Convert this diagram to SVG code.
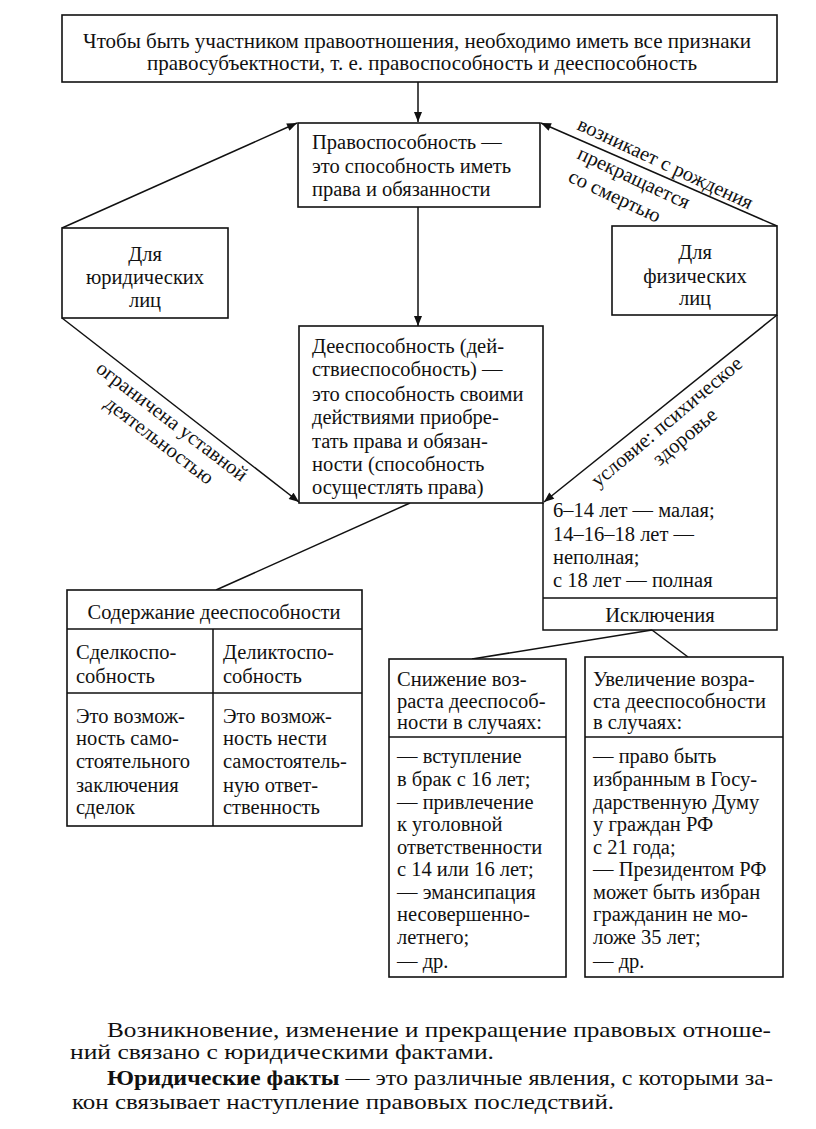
<svg xmlns="http://www.w3.org/2000/svg" width="816" height="1129" viewBox="0 0 816 1129" font-family="'Liberation Serif','Times New Roman',serif">
<defs>
<marker id="ah" viewBox="0 0 10 8" refX="10" refY="4" markerWidth="11" markerHeight="8" markerUnits="userSpaceOnUse" orient="auto">
<path d="M0,0 L10,4 L0,8 z" fill="#111"/>
</marker>
<style>
text{font-family:"Liberation Serif","Times New Roman",serif;font-size:20.5px;fill:#111}
.c{text-anchor:middle}
.box{fill:#fff;stroke:#111;stroke-width:1.6}
.ln{fill:none;stroke:#111;stroke-width:1.5}
.t{font-size:21px}
.p{font-size:21px}
.b{font-weight:bold}
</style>
</defs>
<rect width="816" height="1129" fill="#fff"/>
<g id="connectors">
<line class="ln" x1="418" y1="82" x2="418" y2="122" marker-end="url(#ah)"/>
<line class="ln" x1="62" y1="228" x2="297" y2="123" marker-end="url(#ah)"/>
<line class="ln" x1="777" y1="226" x2="541" y2="123" marker-end="url(#ah)"/>
<line class="ln" x1="418" y1="207" x2="418" y2="326" marker-end="url(#ah)"/>
<line class="ln" x1="62" y1="318" x2="299" y2="502" marker-end="url(#ah)"/>
<line class="ln" x1="777" y1="315" x2="544" y2="502" marker-end="url(#ah)"/>
<line class="ln" x1="410" y1="503" x2="216" y2="590"/>
<line class="ln" x1="652" y1="630" x2="472" y2="659"/>
<line class="ln" x1="652" y1="630" x2="688" y2="657"/>
<text transform="translate(576,129) rotate(25)">возникает с рождения</text>
<text transform="translate(576,158) rotate(25)">прекращается</text>
<text transform="translate(567,181) rotate(25)">со смертью</text>
<g transform="translate(62,318) rotate(37.3)">
<text x="58" y="22">ограничена уставной</text>
<text x="86" y="45">деятельностью</text>
</g>
<g transform="translate(598,488) rotate(-40)">
<text x="0" y="0">условие: психическое</text>
<text x="61" y="23">здоровье</text>
</g>
</g>
<g id="top">
<rect class="box" x="62" y="15" width="715" height="67"/>
<text class="t" x="83" y="48" textLength="668" lengthAdjust="spacingAndGlyphs">Чтобы быть участником правоотношения, необходимо иметь все признаки</text>
<text class="t" x="147" y="70" textLength="550" lengthAdjust="spacingAndGlyphs">правосубъектности, т. е. правоспособность и дееспособность</text>
</g>
<g id="pravo">
<rect class="box" x="298" y="123" width="242" height="84"/>
<text x="312" y="149">Правоспособность —</text>
<text x="312" y="173">это способность иметь</text>
<text x="312" y="196">права и обязанности</text>
</g>
<g id="yur">
<rect class="box" x="62" y="228" width="166" height="90"/>
<text class="c" x="145" y="261">Для</text>
<text class="c" x="145" y="284">юридических</text>
<text class="c" x="145" y="307">лиц</text>
</g>
<g id="fiz">
<rect class="box" x="612" y="226" width="165" height="89"/>
<text class="c" x="695" y="259">Для</text>
<text class="c" x="695" y="283">физических</text>
<text class="c" x="695" y="305">лиц</text>
</g>
<g id="dee">
<rect class="box" x="299" y="326" width="244" height="177"/>
<text x="312" y="353">Дееспособность (дей-</text>
<text x="312" y="376">ствиеспособность) —</text>
<text x="312" y="401">это способность своими</text>
<text x="312" y="424">действиями приобре-</text>
<text x="312" y="448">тать права и обязан-</text>
<text x="312" y="471">ности (способность</text>
<text x="312" y="494">осущестлять права)</text>
</g>
<g id="age">
<path class="ln" d="M543,503 L543,630 L777,630 L777,315 M543,598 L777,598"/>
<text x="553" y="517">6–14 лет — малая;</text>
<text x="553" y="541">14–16–18 лет —</text>
<text x="553" y="564">неполная;</text>
<text x="553" y="587">с 18 лет — полная</text>
<text class="c" x="660" y="622">Исключения</text>
</g>
<g id="content">
<rect class="box" x="67" y="590" width="295" height="236"/>
<path class="ln" d="M67,629 L362,629 M67,693 L362,693 M213,629 L213,826"/>
<text class="c" x="214" y="619">Содержание дееспособности</text>
<text x="76" y="659">Сделкоспо-</text>
<text x="76" y="683">собность</text>
<text x="223" y="659">Деликтоспо-</text>
<text x="223" y="683">собность</text>
<text x="76" y="723">Это возмож-</text>
<text x="76" y="745">ность само-</text>
<text x="76" y="768">стоятельного</text>
<text x="76" y="792">заключения</text>
<text x="76" y="814">сделок</text>
<text x="223" y="723">Это возмож-</text>
<text x="223" y="745">ность нести</text>
<text x="223" y="768">самостоятель-</text>
<text x="223" y="792">ную ответ-</text>
<text x="223" y="814">ственность</text>
</g>
<g id="decrease">
<rect class="box" x="389" y="659" width="177" height="318"/>
<line class="ln" x1="389" y1="737" x2="566" y2="737"/>
<text x="397" y="686">Снижение воз-</text>
<text x="397" y="708">раста дееспособ-</text>
<text x="397" y="729">ности в случаях:</text>
<text x="397" y="763">— вступление</text>
<text x="397" y="786">в брак с 16 лет;</text>
<text x="397" y="809">— привлечение</text>
<text x="397" y="831">к уголовной</text>
<text x="397" y="854">ответственности</text>
<text x="397" y="876">с 14 или 16 лет;</text>
<text x="397" y="899">— эмансипация</text>
<text x="397" y="921">несовершенно-</text>
<text x="397" y="944">летнего;</text>
<text x="397" y="968">— др.</text>
</g>
<g id="increase">
<rect class="box" x="585" y="657" width="198" height="320"/>
<line class="ln" x1="585" y1="737" x2="783" y2="737"/>
<text x="593" y="686">Увеличение возра-</text>
<text x="593" y="708">ста дееспособности</text>
<text x="593" y="729">в случаях:</text>
<text x="593" y="763">— право быть</text>
<text x="593" y="786">избранным в Госу-</text>
<text x="593" y="809">дарственную Думу</text>
<text x="593" y="831">у граждан РФ</text>
<text x="593" y="854">с 21 года;</text>
<text x="593" y="876">— Президентом РФ</text>
<text x="593" y="899">может быть избран</text>
<text x="593" y="921">гражданин не мо-</text>
<text x="593" y="944">ложе 35 лет;</text>
<text x="593" y="968">— др.</text>
</g>
<g id="paragraph">
<text class="p" x="107" y="1037" textLength="664" lengthAdjust="spacingAndGlyphs">Возникновение, изменение и прекращение правовых отноше-</text>
<text class="p" x="70" y="1059" textLength="424" lengthAdjust="spacingAndGlyphs">ний связано с юридическими фактами.</text>
<text class="p" x="107" y="1085" textLength="666" lengthAdjust="spacingAndGlyphs"><tspan class="b">Юридические факты</tspan> — это различные явления, с которыми за-</text>
<text class="p" x="72" y="1109" textLength="542" lengthAdjust="spacingAndGlyphs">кон связывает наступление правовых последствий.</text>
</g>
</svg>
